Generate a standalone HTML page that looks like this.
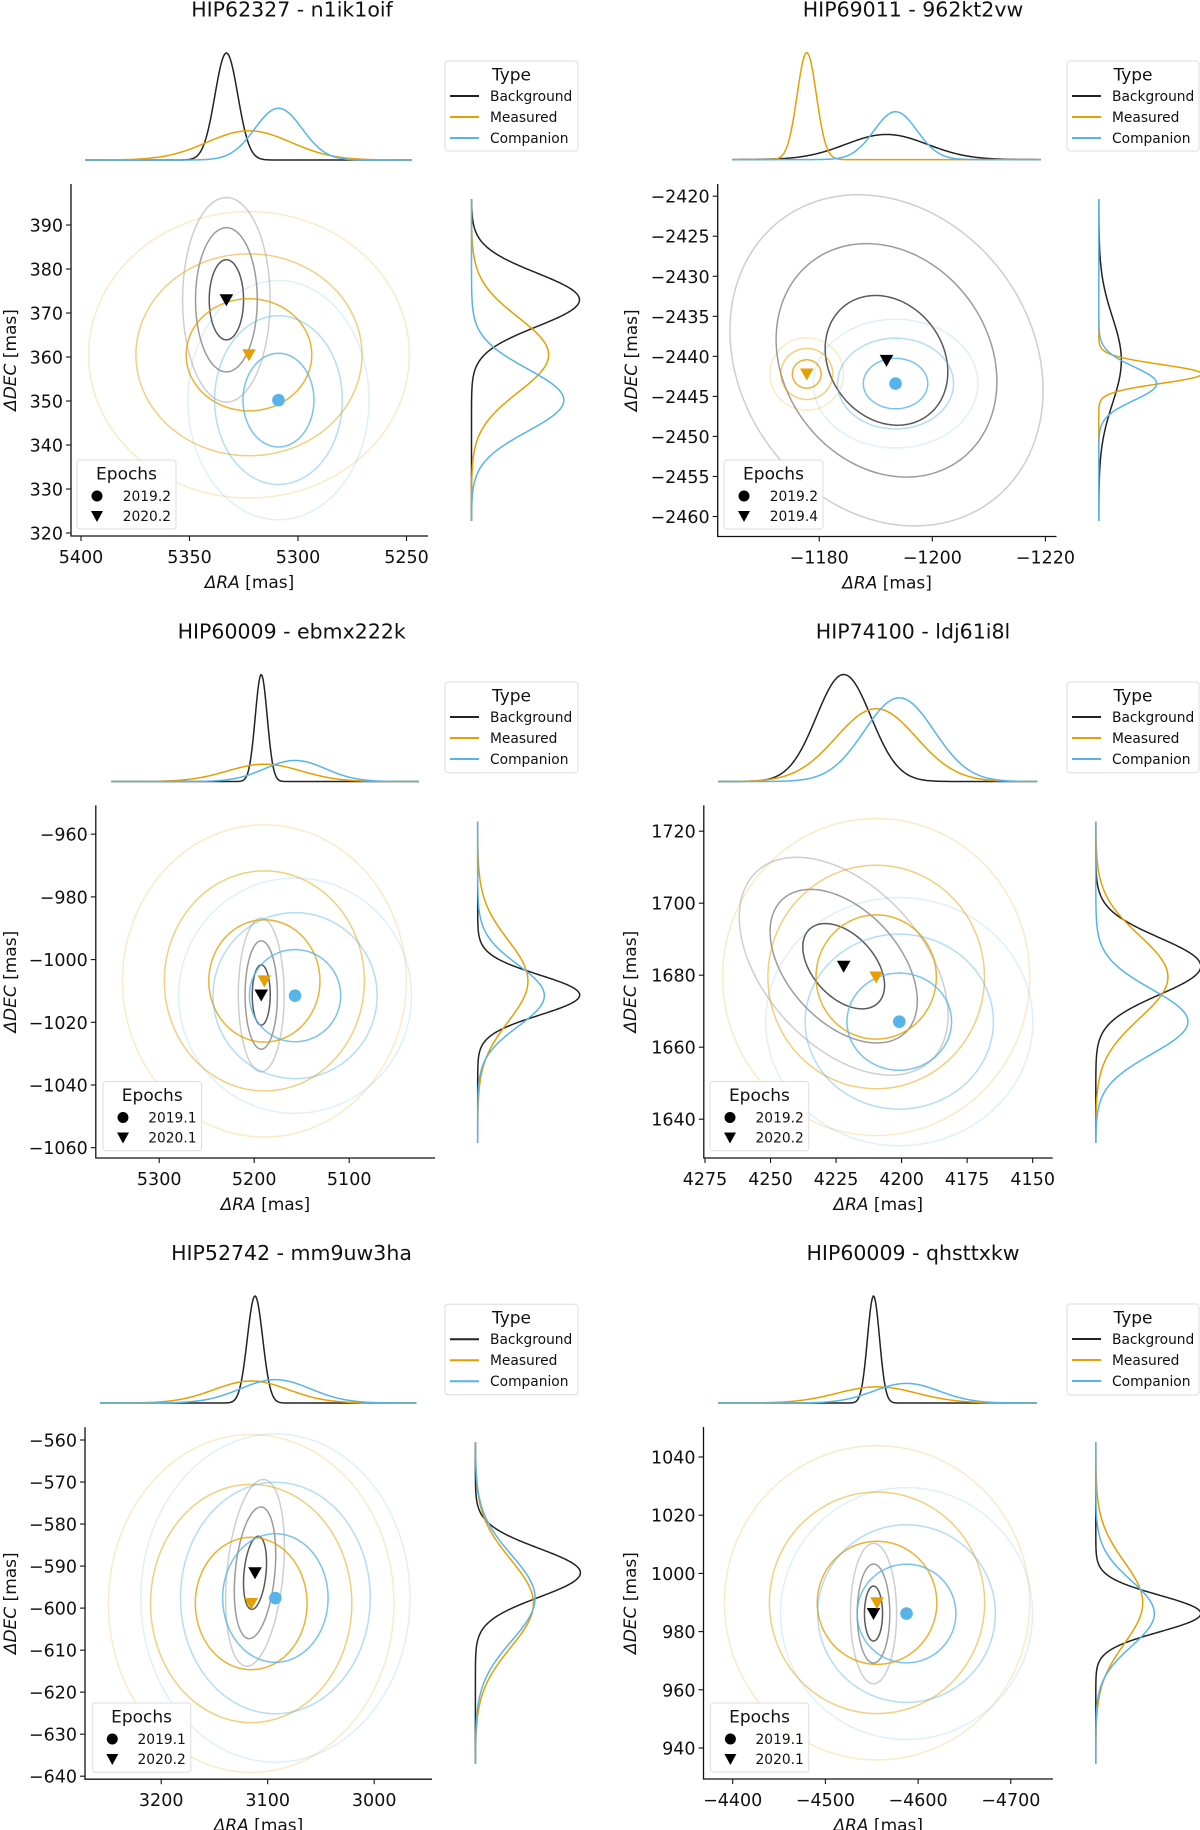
<!DOCTYPE html>
<html><head><meta charset="utf-8"><style>
html,body{margin:0;padding:0;background:#fff;}
svg{display:block;font-family:"DejaVu Sans","Liberation Sans",sans-serif;}
</style></head><body>
<svg id="fig" xmlns="http://www.w3.org/2000/svg" width="1200" height="1830" viewBox="0 0 1200 1830"></svg>
<script>
// ---- data ----
const titles = ["HIP62327 - n1ik1oif","HIP69011 - 962kt2vw","HIP60009 - ebmx222k","HIP74100 - ldj61i8l","HIP52742 - mm9uw3ha","HIP60009 - qhsttxkw"];
const epoch1Labels = ["2019.2","2019.2","2019.1","2019.2","2019.1","2019.1"];
const epoch2Labels = ["2020.2","2019.4","2020.1","2020.2","2020.2","2020.1"];
const bgCenter = [[5333,373],[-1191.9,-2440.5],[5192.6,-1011.3],[4222.1,1682.5],[3111.9,-591.6],[-4551.9,986.2]];
const bgSigma = [[5.27,6.07,0],[7.23,5.4,0.18],[6.3,6.4,0],[10.4,7.9,0.45],[7.2,5.8,-0.28],[6.5,6.3,0]];
const measCenter = [[5322.6,360.5],[-1177.8,-2442.2],[5189.3,-1006.8],[4209.7,1679.5],[3115.5,-598.9],[-4555.7,989.9]];
const measSigma = [[19.3,8.5,0],[1.7,1.18,0],[39,13,0],[15.3,11.5,0],[35,10.5,0],[43,14.1,0]];
const compCenter = [[5309,350.2],[-1193.5,-2443.4],[5157,-1011.5],[4200.9,1667.1],[3092.8,-597.6],[-4587.5,986.2]];
const compSigma = [[10.9,7.1,0],[3.8,2.1,0],[32,9.8,0],[13.3,9,0],[33,10.2,0],[35.5,11.3,0]];
const xTicks = [[5400,5350,5300,5250],[-1180,-1200,-1220],[5300,5200,5100],[4275,4250,4225,4200,4175,4150],[3200,3100,3000],[-4400,-4500,-4600,-4700]];
const yTicks = [[320,330,340,350,360,370,380,390],[-2460,-2455,-2450,-2445,-2440,-2435,-2430,-2425,-2420],[-1060,-1040,-1020,-1000,-980,-960],[1640,1660,1680,1700,1720],[-640,-630,-620,-610,-600,-590,-580,-570,-560],[940,960,980,1000,1020,1040]];
const typeLabels = ["Background","Measured","Companion"];

// ---- layout (pixels) ----
const L = [
 {ax:[71,428,184,536], xr:[5400,81,5250,406.5], yr:[390,225,320,533], top:[85,412,160,107], right:[471.5,199,521,108], leg:[445,61,578,151], ep:[77,460,176,529], title:[292,8.5], ylab:10},
 {ax:[717.7,1056.5,184,536.5], xr:[-1180,819.2,-1220,1045.4], yr:[-2420,196.2,-2460,516.5], top:[732,1041,159.6,107], right:[1098.8,199,521,103], leg:[1067,61,1199,151], ep:[724,460,823,529], title:[913,8.5], ylab:631},
 {ax:[95.8,435,805.4,1158], xr:[5300,159.2,5100,349.2], yr:[-960,834.2,-1060,1147.7], top:[111,419,781.5,107], right:[477.7,821.5,1142.7,102], leg:[445,682,578,772.7], ep:[103,1081.5,201.5,1150.8], title:[291.7,630.4], ylab:10},
 {ax:[703.8,1052.7,805.4,1158], xr:[4275,705,4150,1032.7], yr:[1720,831.2,1640,1119.2], top:[718,1037.3,781.5,107], right:[1095.8,821.5,1142.7,105], leg:[1067,682,1199,772.7], ep:[710,1081.5,808.8,1150.8], title:[913,630.4], ylab:630},
 {ax:[85,432,1427.3,1779.2], xr:[3200,161.2,3000,374.2], yr:[-560,1440,-640,1776.2], top:[100,416.5,1403,107], right:[475.4,1442.3,1763.8,105], leg:[445,1304.2,578,1394.6], ep:[92.3,1703,190.8,1772.3], title:[291.5,1252], ylab:10},
 {ax:[703.5,1053,1427,1779], xr:[-4400,732.7,-4700,1010.8], yr:[1040,1457,940,1748], top:[718,1037,1403,107], right:[1095.8,1442.3,1763.8,105], leg:[1067,1304,1199,1395], ep:[710.4,1703,808.8,1772], title:[913,1252], ylab:630}
];
const COLORS = ["#222222","#E69F00","#56B4E9"];
const ELL_K = [1.5,2.7,3.83];
const ELL_OP = [[0.75,0.45,0.22],[0.8,0.5,0.22],[0.8,0.45,0.2]];
const NS = "http://www.w3.org/2000/svg";
const svg = document.getElementById("fig");
function mk(tag, attrs, parent){ const e=document.createElementNS(NS,tag); for(const k in attrs) e.setAttribute(k,attrs[k]); (parent||svg).appendChild(e); return e; }
function fmt(v){ return (v<0?"\u2212":"")+Math.abs(v); }

for(let p=0;p<6;p++){
  const c=L[p];
  const g=mk("g",{});
  
  
  const sx=v=>c.xr[1]+(v-c.xr[0])*(c.xr[3]-c.xr[1])/(c.xr[2]-c.xr[0]);
  const sy=v=>c.yr[1]+(v-c.yr[0])*(c.yr[3]-c.yr[1])/(c.yr[2]-c.yr[0]);
  const ix=px=>c.xr[0]+(px-c.xr[1])*(c.xr[2]-c.xr[0])/(c.xr[3]-c.xr[1]);
  const iy=py=>c.yr[0]+(py-c.yr[1])*(c.yr[2]-c.yr[0])/(c.yr[3]-c.yr[1]);
  const t=mk("text",{x:c.title[0],y:c.title[1]+8,"text-anchor":"middle","font-size":"20.5",fill:"#111"},g);
  t.textContent=titles[p];
  
  
  const centers=[bgCenter[p],measCenter[p],compCenter[p]];
  const sig=[bgSigma[p],measSigma[p],compSigma[p]];
  const cid="clip"+p;
  const cp=mk("clipPath",{id:cid},g);
  mk("rect",{x:c.ax[0],y:c.ax[2]-5,width:c.ax[1]-c.ax[0]+5,height:c.ax[3]-c.ax[2]+5},cp);
  const plot=mk("g",{"clip-path":"url(#"+cid+")"},g);
  
  
  for(let s=0;s<3;s++){
    for(let k=2;k>=0;k--){
      const [mx,my]=centers[s]; const [sgx,sgy,rho]=sig[s];
      let d="";
      for(let i=0;i<=120;i++){
        const th=i/120*2*Math.PI;
        const X=mx+ELL_K[k]*sgx*Math.cos(th);
        const Y=my+ELL_K[k]*sgy*(rho*Math.cos(th)+Math.sqrt(1-rho*rho)*Math.sin(th));
        d+=(i?"L":"M")+sx(X).toFixed(2)+" "+sy(Y).toFixed(2);
      }
      const e=mk("path",{d:d+"Z",fill:"none",stroke:COLORS[s],"stroke-opacity":ELL_OP[s][k],"stroke-width":1.5},plot);
      
      
    }
  }
  const cx=sx(compCenter[p][0]), cy=sy(compCenter[p][1]);
  const dot=mk("circle",{cx:cx,cy:cy,r:6.3,fill:COLORS[2]},g);
  
  
  [[0,"#000"],[1,COLORS[1]]].forEach(([s,col])=>{
    const X=sx(centers[s][0]), Y=sy(centers[s][1]);
    const tri=mk("path",{d:`M${X-6.8} ${Y-5.5}L${X+6.8} ${Y-5.5}L${X} ${Y+6.5}Z`,fill:col},g);
    
    
  });
  const sp=mk("path",{d:`M${c.ax[0]} ${c.ax[2]}L${c.ax[0]} ${c.ax[3]}L${c.ax[1]} ${c.ax[3]}`,fill:"none",stroke:"#111","stroke-width":1.3},g);
  
  
  xTicks[p].forEach(v=>{
    const X=sx(v);
    mk("line",{x1:X,x2:X,y1:c.ax[3],y2:c.ax[3]+5,stroke:"#111","stroke-width":1.1},g);
    const tl=mk("text",{x:X,y:c.ax[3]+27,"text-anchor":"middle","font-size":"17.5",fill:"#111"},g);
    tl.textContent=fmt(v);
    
    
  });
  yTicks[p].forEach(v=>{
    const Y=sy(v);
    mk("line",{x1:c.ax[0]-5,x2:c.ax[0],y1:Y,y2:Y,stroke:"#111","stroke-width":1.1},g);
    const tl=mk("text",{x:c.ax[0]-8,y:Y+6.5,"text-anchor":"end","font-size":"17.5",fill:"#111"},g);
    tl.textContent=fmt(v);
    
    
  });
  const xl=mk("text",{x:(c.ax[0]+c.ax[1])/2,y:c.ax[3]+52,"text-anchor":"middle","font-size":"17",fill:"#111"},g);
  xl.innerHTML='<tspan font-style="italic">ΔRA</tspan> [mas]';
  
  
  const ymid=(c.ax[2]+c.ax[3])/2;
  const yl=mk("text",{x:c.ylab+6,y:ymid,"text-anchor":"middle","font-size":"17",fill:"#111",transform:`rotate(-90 ${c.ylab+6} ${ymid})`},g);
  yl.innerHTML='<tspan font-style="italic">ΔDEC</tspan> [mas]';
  
  
  const maxInvX=Math.max(...sig.map(s=>1/s[0]));
  for(let s=0;s<3;s++){
    let d="";
    for(let i=0;i<=300;i++){
      const px=c.top[0]+(c.top[1]-c.top[0])*i/300;
      const v=ix(px); const z=(v-centers[s][0])/sig[s][0];
      const h=c.top[3]*(1/sig[s][0])/maxInvX*Math.exp(-0.5*z*z);
      d+=(i?"L":"M")+px.toFixed(2)+" "+(c.top[2]-h).toFixed(2);
    }
    const m=mk("path",{d:d,fill:"none",stroke:COLORS[s],"stroke-width":1.5},g);
    
    
  }
  const maxInvY=Math.max(...sig.map(s=>1/s[1]));
  for(let s=0;s<3;s++){
    let d="";
    for(let i=0;i<=300;i++){
      const py=c.right[1]+(c.right[2]-c.right[1])*i/300;
      const v=iy(py); const z=(v-centers[s][1])/sig[s][1];
      const w=c.right[3]*(1/sig[s][1])/maxInvY*Math.exp(-0.5*z*z);
      d+=(i?"L":"M")+(c.right[0]+w).toFixed(2)+" "+py.toFixed(2);
    }
    const m=mk("path",{d:d,fill:"none",stroke:COLORS[s],"stroke-width":1.5},g);
    
    
  }
  const lg=mk("g",{},g);
  
  
  const [lx0,ly0,lx1,ly1]=c.leg;
  mk("rect",{x:lx0,y:ly0,width:lx1-lx0,height:ly1-ly0,rx:3,fill:"#fff","fill-opacity":0.85,stroke:"#ddd","stroke-width":1},lg);
  const lt=mk("text",{x:(lx0+lx1)/2,y:ly0+19.5,"text-anchor":"middle","font-size":"17",fill:"#111"},lg);
  lt.textContent="Type";
  typeLabels.forEach((lab,i)=>{
    const y=ly0+35+i*21;
    mk("line",{x1:lx0+5,x2:lx0+34,y1:y,y2:y,stroke:COLORS[i],"stroke-width":2},lg);
    const tt=mk("text",{x:lx0+45,y:y+5,"font-size":"13.8","fill":"#111"},lg);
    tt.textContent=lab;
    
    
  });
  const eg=mk("g",{},g);
  
  
  const [ex0,ey0,ex1,ey1]=c.ep;
  mk("rect",{x:ex0,y:ey0,width:ex1-ex0,height:ey1-ey0,rx:3,fill:"#fff","fill-opacity":0.85,stroke:"#ddd","stroke-width":1},eg);
  const et=mk("text",{x:(ex0+ex1)/2,y:ey0+19.5,"text-anchor":"middle","font-size":"17",fill:"#111"},eg);
  et.textContent="Epochs";
  mk("circle",{cx:ex0+20,cy:ey0+36,r:5.5,fill:"#000"},eg);
  const e1=mk("text",{x:ex1-5,y:ey0+41,"text-anchor":"end","font-size":"13.8","fill":"#111"},eg);
  e1.textContent=epoch1Labels[p];
  const tx=ex0+20, ty=ey0+56;
  mk("path",{d:`M${tx-6} ${ty-5}L${tx+6} ${ty-5}L${tx} ${ty+6}Z`,fill:"#000"},eg);
  const e2=mk("text",{x:ex1-5,y:ey0+61,"text-anchor":"end","font-size":"13.8","fill":"#111"},eg);
  e2.textContent=epoch2Labels[p];
}
</script>
</body></html>
